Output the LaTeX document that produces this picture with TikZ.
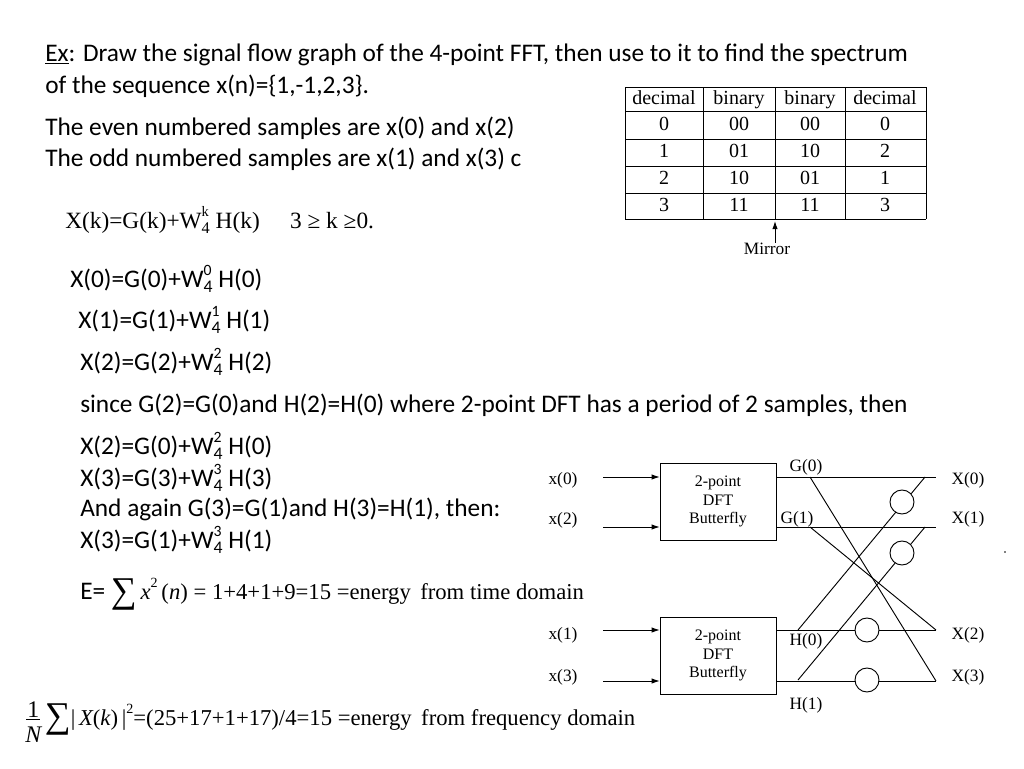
\documentclass[tikz,border=0pt]{standalone}
\usepackage{fontspec}
\setmainfont{Carlito}
\newfontfamily\tms{Liberation Serif}
\usetikzlibrary{arrows.meta}
\newcommand{\ti}[1]{{\tms\itshape #1}}
\newcommand{\sps}[1]{\raisebox{0.5em}{\scalebox{0.62}{#1}}}
\newcommand{\Wk}[2]{W\rlap{\sps{#2}}\raisebox{-0.2em}{\scalebox{0.7}{#1}}}
\newcommand{\Sg}{\raisebox{-0.12em}{\scalebox{1.6}{∑}}}
\newcommand{\frN}{\raisebox{-0.75em}{\scalebox{1.05}{\shortstack{1\\[-2pt]\rule{0.6em}{0.5pt}\\[2pt]\ti{N}}}}\,}
\begin{document}
\begin{tikzpicture}[x=0.75pt,y=-0.75pt,
  txt/.style={anchor=west,inner sep=0pt,font=\fontsize{19}{22}\selectfont},
  ser/.style={anchor=west,inner sep=0pt,font=\tms\fontsize{17.5}{20}\selectfont},
  lab/.style={inner sep=0pt,font=\tms\fontsize{13}{15}\selectfont},
  cell/.style={inner sep=0pt,text height=11pt,text depth=3pt,font=\tms\fontsize{15}{17}\selectfont},
  bfly/.style={draw,minimum width=116*0.75pt,minimum height=77*0.75pt,align=center,inner sep=0pt,font=\tms\fontsize{12}{14}\selectfont},
  ln/.style={line width=0.7pt},
  arr/.style={ln,-{Latex[length=6pt,width=4pt]}},
  twc/.style={draw,circle,line width=0.7pt,minimum size=24*0.75pt,inner sep=0pt,fill=white}]
\useasboundingbox (0,0) rectangle (1024,768);
% text
\node[txt] (t1) at (45,55) {\underline{Ex}: Draw the signal flow graph of the 4-point FFT, then use to it to find the spectrum};
\node[txt] (t2) at (45,86) {of the sequence x(n)=\{1,-1,2,3\}.};
\node[txt] (t3) at (45,128) {The even numbered samples are x(0) and x(2)};
\node[txt] (t4) at (45,159) {The odd numbered samples are x(1) and x(3) c};
\node[ser] (f0) at (65,220) {X(k)=G(k)+\Wk{4}{k} H(k)\hspace{1.3em}3 ≥ k ≥0.};
\node[txt] (e0) at (70,279) {X(0)=G(0)+\Wk{4}{0} H(0)};
\node[txt] (e1) at (78,320) {X(1)=G(1)+\Wk{4}{1} H(1)};
\node[txt] (e2) at (80,362) {X(2)=G(2)+\Wk{4}{2} H(2)};
\node[txt] (e3) at (80,405) {since G(2)=G(0)and H(2)=H(0) where 2-point DFT has a period of 2 samples, then};
\node[txt] (e4) at (80,446) {X(2)=G(0)+\Wk{4}{2} H(0)};
\node[txt] (e5) at (80,478) {X(3)=G(3)+\Wk{4}{3} H(3)};
\node[txt] (e6) at (80,509) {And again G(3)=G(1)and H(3)=H(1), then:};
\node[txt] (e7) at (80,540) {X(3)=G(1)+\Wk{4}{3} H(1)};
\node[txt] (en1) at (80,594) {E= {\tms\fontsize{17}{20}\selectfont \Sg\,\ti{x}\sps{2}\,(\ti{n}) = 1+4+1+9=15 =energy\, from time domain}};
\node[anchor=west,inner sep=0pt,font=\tms\fontsize{17}{20}\selectfont] (en2) at (25,722) {\frN\Sg|\,\ti{X}(\ti{k})\,|\sps{2}=(25+17+1+17)/4=15 =energy\, from frequency domain};
% table
\foreach \yy in {87,111,139,166,193,219} \draw[ln] (625,\yy) -- (926,\yy);
\foreach \xx in {625,703,775,845,926} \draw[ln] (\xx,87) -- (\xx,219);
\foreach \c/\xx in {1/664,2/739,3/810,4/885}{
  \node[cell] (h\c) at (\xx,99) {\ifcase\c\or decimal\or binary\or binary\or decimal\fi};}
\foreach \r/\yy/\a/\b/\cc/\d in {1/125/0/00/00/0,2/152/1/01/10/2,3/179/2/10/01/1,4/206/3/11/11/3}{
  \node[cell] (ra\r) at (664,\yy) {\a};
  \node[cell] (rb\r) at (739,\yy) {\b};
  \node[cell] (rc\r) at (810,\yy) {\cc};
  \node[cell] (rd\r) at (885,\yy) {\d};}
\node[lab] (mir) at (767,249) {Mirror};
\coordinate (mt) at (775,221);
\draw[arr] (mir.north -| mt) -- (mt);
% butterfly
\node[bfly] (b1) at (718,501.5) {2-point\\DFT\\Butterfly};
\node[bfly] (b2) at (718,655.5) {2-point\\DFT\\Butterfly};
\node[lab] (x0) at (563,480) {x(0)};
\node[lab] (x2) at (563,520) {x(2)};
\node[lab] (x1) at (563,635) {x(1)};
\node[lab] (x3) at (563,677) {x(3)};
\foreach \yy in {477,527,630,681}{\coordinate (i\yy) at (603,\yy);}
\draw[arr] (i477) -- (i477 -| b1.west);
\draw[arr] (i527) -- (i527 -| b1.west);
\draw[arr] (i630) -- (i630 -| b2.west);
\draw[arr] (i681) -- (i681 -| b2.west);
\coordinate (o0) at (936,477); \coordinate (o1) at (936,527);
\coordinate (o2) at (936,630); \coordinate (o3) at (936,681);
\draw[ln] (o0 -| b1.east) -- (o0);
\draw[ln] (o1 -| b1.east) -- (o1);
\draw[ln] (o2 -| b2.east) -- (o2);
\draw[ln] (o3 -| b2.east) -- (o3);
\node[lab] (G0) at (806,467) {G(0)};
\node[lab] (G1) at (797,519) {G(1)};
\node[lab] (H0) at (806,641) {H(0)};
\node[lab] (H1) at (806,705) {H(1)};
\node[lab] (X0) at (968,480) {X(0)};
\node[lab] (X1) at (968,519) {X(1)};
\node[lab] (X2) at (968,635) {X(2)};
\node[lab] (X3) at (968,677) {X(3)};
\coordinate (g0) at (810,477); \coordinate (g1) at (810,527);
\coordinate (h0) at (798,630); \coordinate (h1) at (798,680);
\coordinate (u0) at (925,477); \coordinate (u1) at (925,527);
\draw[ln] (g0) -- (o3);
\draw[ln] (g1) -- (o2);
\draw[ln] (h0) -- (u0);
\draw[ln] (h1) -- (u1);
\node[twc] (c1) at (902,502) {};
\node[twc] (c2) at (902,553) {};
\node[twc] (c3) at (867,630) {};
\node[twc] (c4) at (867,680) {};
\fill (1005,552) circle (0.8);
\end{tikzpicture}
\end{document}
